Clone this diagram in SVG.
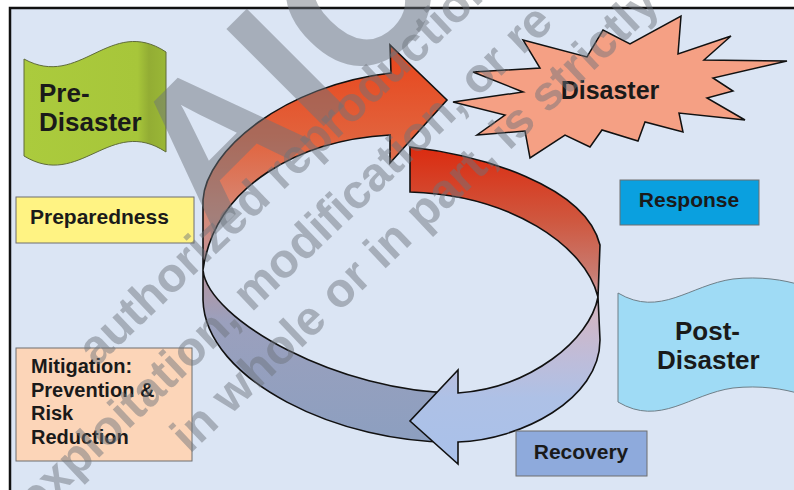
<svg xmlns="http://www.w3.org/2000/svg" width="794" height="490" viewBox="0 0 794 490">
<style>
  .lbl { font-family: "Liberation Sans", Arial, sans-serif; font-weight: bold; fill: #1a1a1a; }
  .box { stroke: #6f6f6f; stroke-width: 1; }
  .arr { stroke: #111; stroke-width: 1.6; stroke-linejoin: miter; }
  .wm { font-family: "Liberation Sans", Arial, sans-serif; font-weight: bold; fill: #6d737b; fill-opacity: 0.48; }
</style>
<defs>
  <linearGradient id="gGreen" x1="24" y1="0" x2="166" y2="0" gradientUnits="userSpaceOnUse">
    <stop offset="0" stop-color="#abcb3d"/>
    <stop offset="0.8" stop-color="#a7c63a"/>
    <stop offset="0.88" stop-color="#93ad34"/>
    <stop offset="1" stop-color="#9ab736"/>
  </linearGradient>
  <linearGradient id="gRedL" x1="0" y1="45" x2="0" y2="272" gradientUnits="userSpaceOnUse">
    <stop offset="0" stop-color="#e8441a"/>
    <stop offset="0.4" stop-color="#e2623c"/>
    <stop offset="0.75" stop-color="#d68a78"/>
    <stop offset="1" stop-color="#bb94a0"/>
  </linearGradient>
  <linearGradient id="gDark" x1="0" y1="268" x2="0" y2="445" gradientUnits="userSpaceOnUse">
    <stop offset="0" stop-color="#b8949e"/>
    <stop offset="0.3" stop-color="#9ba0bd"/>
    <stop offset="1" stop-color="#8c9fc0"/>
  </linearGradient>
  <linearGradient id="gRedR" x1="0" y1="145" x2="0" y2="298" gradientUnits="userSpaceOnUse">
    <stop offset="0" stop-color="#dc2a0e"/>
    <stop offset="0.5" stop-color="#cf5840"/>
    <stop offset="0.85" stop-color="#c87c72"/>
    <stop offset="1" stop-color="#d2a2aa"/>
  </linearGradient>
  <linearGradient id="gLight" x1="0" y1="296" x2="0" y2="465" gradientUnits="userSpaceOnUse">
    <stop offset="0" stop-color="#d8b4bc"/>
    <stop offset="0.35" stop-color="#c0bcd8"/>
    <stop offset="0.6" stop-color="#aec1e6"/>
    <stop offset="1" stop-color="#a9c1ea"/>
  </linearGradient>
</defs>

<rect x="0" y="0" width="794" height="490" fill="#ffffff"/>
<rect x="10" y="8" width="790" height="490" fill="#dbe5f4"/>
<path d="M10,500 L10,8 L800,8" fill="none" stroke="#111" stroke-width="2.5"/>

<g id="connectors">
  <path id="arrow-dark" class="arr" fill="url(#gDark)" d="M203,270 C208,320 340,393 458,393 L458,442 C340,445 205,380 203,300 Z"/>
  <path id="arrow-light" class="arr" fill="url(#gLight)" d="M598,297 C590,340 530,388 458,393 L458,370 L410,421 L458,464 L458,442 C520,440 600,400 600,340 Z"/>
  <path id="band-red-right" class="arr" fill="url(#gRedR)" d="M410,147 C480,155 585,185 600,245 L598,297 C585,245 510,195 410,192 Z"/>
  <path id="arrow-red" class="arr" fill="url(#gRedL)" d="M203,270 L203,200 C206,150 285,85 391,73 L390,45 L447,100 L390,163 L390,135 C300,140 215,185 203,270 Z"/>
</g>

<g id="pre-disaster">
  <path d="M24,59 C80,90 110,15 166,52 L166,152 C110,115 80,190 24,156 Z" fill="url(#gGreen)" stroke="#5f6b3a" stroke-width="1"/>
  <text class="lbl" x="39" y="102" font-size="26">Pre-</text>
  <text class="lbl" x="39" y="131" font-size="26">Disaster</text>
</g>

<g id="preparedness">
  <rect class="box" x="16" y="197" width="178" height="46" fill="#fff383"/>
  <text class="lbl" x="30" y="224" font-size="21">Preparedness</text>
</g>

<g id="mitigation">
  <rect class="box" x="16" y="348" width="176" height="113" fill="#fcd5b8"/>
  <text class="lbl" x="31" y="373" font-size="20">Mitigation:</text>
  <text class="lbl" x="31" y="397" font-size="20">Prevention &amp;</text>
  <text class="lbl" x="31" y="420" font-size="20">Risk</text>
  <text class="lbl" x="31" y="444" font-size="20">Reduction</text>
</g>

<g id="disaster">
  <polygon points="523,40 587,57 603,30 630,44 681,16 678,54 731,36 704,60 787,61 713,78 733,91 707,98 745,120 679,113 683,132 645,122 638,141 602,130 590,147 565,135 530,158 525,131 477,135 505,115 453,102 523,92 473,72 540,68" fill="#f5a084" stroke="#111" stroke-width="1.5" stroke-linejoin="miter"/>
  <text class="lbl" x="610" y="99" font-size="25" text-anchor="middle">Disaster</text>
</g>

<g id="response">
  <rect class="box" x="620" y="180" width="139" height="45" fill="#0aa0df"/>
  <text class="lbl" x="689" y="207" font-size="21" text-anchor="middle">Response</text>
</g>

<g id="post-disaster">
  <path d="M618,293 C660,318 690,285 733,279 C760,276 785,280 800,285 L800,394 C785,389 760,385 733,388 C690,394 660,427 618,402 Z" fill="#9fdbf5" stroke="#6f7f88" stroke-width="1"/>
  <text class="lbl" x="675" y="340" font-size="26">Post-</text>
  <text class="lbl" x="657" y="369" font-size="26">Disaster</text>
</g>

<g id="recovery">
  <rect class="box" x="516" y="431" width="131" height="45" fill="#8eaadc"/>
  <text class="lbl" x="581" y="459" font-size="21" text-anchor="middle">Recovery</text>
</g>

<g id="watermark">
  <text class="wm" font-size="200" transform="translate(212,238) rotate(-45)">AIC</text>
  <g transform="rotate(-43.5)">
    <text class="wm" font-size="48" x="-183" y="333">authorized reproduction,</text>
    <text class="wm" font-size="48" x="-329" y="400">exploitation, modification, or re</text>
    <text class="wm" font-size="48" x="-175" y="460">in whole or in part, is strictly</text>
  </g>
</g>
</svg>
